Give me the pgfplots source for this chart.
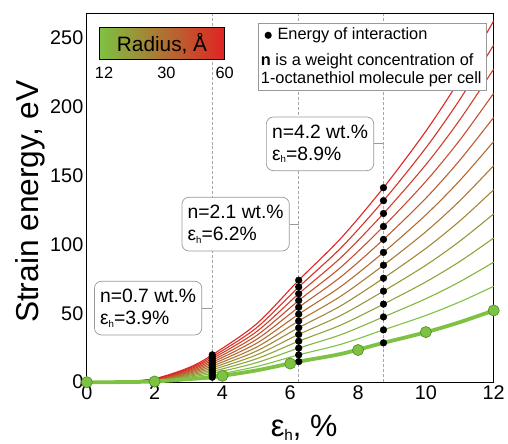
\documentclass[border=0pt]{standalone}
\usepackage{pgfplots}
\pgfplotsset{compat=1.18}
\usepackage{pgfplotstable}
\usepackage{fontspec}
\setmainfont{Liberation Sans}
\newcommand\subh{\raisebox{-0.12em}{\scalebox{0.5}{h}}}

\definecolor{cgreen}{RGB}{125,194,66}
\definecolor{cgreendark}{RGB}{85,145,45}
\definecolor{cred}{RGB}{225,35,35}
\colorlet{col1}{cred!0!cgreen}
\colorlet{col2}{cred!9!cgreen}
\colorlet{col3}{cred!18!cgreen}
\colorlet{col4}{cred!27!cgreen}
\colorlet{col5}{cred!36!cgreen}
\colorlet{col6}{cred!45!cgreen}
\colorlet{col7}{cred!55!cgreen}
\colorlet{col8}{cred!64!cgreen}
\colorlet{col9}{cred!73!cgreen}
\colorlet{col10}{cred!82!cgreen}
\colorlet{col11}{cred!91!cgreen}
\colorlet{col12}{cred!100!cgreen}

% strain energy (eV) vs eps_h (%), c0 = thick green curve, c1..c12 = radius green -> red
\pgfplotstableread{
x    c0   c1    c2    c3    c4    c5    c6    c7    c8    c9    c10   c11   c12
0    0    0     0     0     0     0     0     0     0     0     0     0     0
1    0.05 0.07  0.09  0.11  0.13  0.15  0.17  0.19  0.21  0.23  0.25  0.27  0.29
2    0.5  0.67  0.84  1.01  1.18  1.35  1.52  1.69  1.86  2.03  2.2   2.37  2.54
3    2.2  2.89  3.58  4.27  4.96  5.65  6.34  7.03  7.72  8.41  9.1   9.79  10.48
3.7  3.6  4.95  6.3   7.65  9.0   10.35 11.7  13.05 14.4  15.75 17.1  18.45 19.8
5    8.5  11.3  14.1  16.9  19.7  22.5  25.3  28.1  30.9  33.7  36.5  39.3  42.1
6.25 14.9 19.8  24.7  29.7  34.6  39.5  44.4  49.3  54.3  59.2  64.1  69.0  73.9
7.5  20.5 27.5  34.5  41.5  48.5  55.5  62.5  69.5  76.5  83.5  90.5  97.5  104.5
8.75 28.5 37.9  47.3  56.6  66.0  75.4  84.8  94.1  103.5 112.9 122.3 131.6 141.0
10   36.2 48.4  60.5  72.7  84.8  97.0  109.1 121.3 133.4 145.6 157.7 169.9 182.0
11   43.5 58.2  72.8  87.5  102.2 116.9 131.5 146.2 160.9 175.5 190.2 204.9 219.5
12   52   69.5  87    104.5 122   139.5 157   174.5 192   209.5 227   244.5 262
}\energy

\pgfplotstableread{
x  y
0  0
2  0.5
4  4.6
6  13.5
8  23.3
10 36.3
12 52
}\greendots

\begin{document}
\begin{tikzpicture}
\begin{axis}[
    name=ax,
    scale only axis,
    width=409.4bp, height=370.5bp,
    xmin=0, xmax=12, ymin=0, ymax=267,
    xtick={0,2,...,12}, ytick={0,50,...,250},
    major tick length=0pt,
    axis line style={line width=1pt},
    clip=false,
    tick label style={font=\fontsize{20}{20}\selectfont},
    /pgf/number format/assume math mode=true,
    xlabel={ε\subh, \%},
    ylabel={Strain energy, eV},
    xlabel style={font=\fontsize{31}{31}\selectfont, at={(axis description cs:0.534,-0.124)}, anchor=center},
    ylabel style={font=\fontsize{32}{32}\selectfont, at={(axis description cs:-0.139,0.49)}, anchor=center},
]
% dashed guides at the three concentrations
\draw[gray!70, densely dashed, line width=0.6bp] (axis cs:3.7,0) -- (axis cs:3.7,267);
\draw[gray!70, densely dashed, line width=0.6bp] (axis cs:6.25,0) -- (axis cs:6.25,267);
\draw[gray!70, densely dashed, line width=0.6bp] (axis cs:8.75,0) -- (axis cs:8.75,267);

\pgfplotsinvokeforeach{1,...,12}{
  \addplot[col#1, line width=1.1bp, smooth, no markers] table[x=x, y=c#1]{\energy};
}
\addplot[cgreen, line width=3.8bp, smooth, no markers] table[x=x, y=c0]{\energy};

% energy of interaction points
\pgfplotsinvokeforeach{0,...,12}{
  \addplot[only marks, mark=*, mark size=3.4bp, black,
    skip coords between index={0}{4}, skip coords between index={5}{6},
    skip coords between index={7}{8}, skip coords between index={9}{12}]
    table[x=x, y=c#1]{\energy};
}
\addplot[only marks, mark=*, mark size=5.6bp, mark options={fill=cgreen, draw=cgreendark, line width=0.7bp}]
  table[x=x, y=y]{\greendots};

% callouts
\tikzset{callout/.style={draw=gray!80, line width=0.7bp, rounded corners=7bp, fill=white, align=left,
    minimum width=108bp, minimum height=54bp, inner xsep=5bp, font=\fontsize{19.5}{22.5}\selectfont}}
\node[callout] (b1) at (axis cs:1.81,53.7) {n=0.7 wt.\%\\ε\subh=3.9\%};
\node[callout] (b2) at (axis cs:4.39,114.6) {n=2.1 wt.\%\\ε\subh=6.2\%};
\node[callout] (b3) at (axis cs:6.88,172.8) {n=4.2 wt.\%\\ε\subh=8.9\%};
\draw[gray!80, line width=0.7bp] (b1.east) -- (b1.east -| {axis cs:3.7,0});
\draw[gray!80, line width=0.7bp] (b2.east) -- (b2.east -| {axis cs:6.25,0});
\draw[gray!80, line width=0.7bp] (b3.east) -- (b3.east -| {axis cs:8.75,0});

% radius colour bar
\shade[left color=cgreen, right color=cred, draw=black, line width=0.9bp]
  (axis cs:0.372,257) rectangle (axis cs:4.065,233.9);
\node[font=\fontsize{21}{21}\selectfont] at (axis cs:2.219,245.5) {Radius, Å};
\node[font=\fontsize{16.5}{16.5}\selectfont] at (axis cs:0.51,224.2) {12};
\node[font=\fontsize{16.5}{16.5}\selectfont] at (axis cs:2.35,224.2) {30};
\node[font=\fontsize{16.5}{16.5}\selectfont] at (axis cs:4.065,224.2) {60};

% legend box
\draw[gray!80, line width=0.8bp, fill=white] (axis cs:5.06,259.9) rectangle (axis cs:11.79,211.8);
\fill[black] (axis cs:5.35,251.5) circle (3.6bp);
\node[anchor=west, inner sep=0pt, font=\fontsize{16.5}{16.5}\selectfont] at (axis cs:5.62,251.5) {Energy of interaction};
\node[anchor=west, inner sep=0pt, font=\fontsize{16.5}{16.5}\selectfont] at (axis cs:5.13,232.3) {\textbf{n} is a weight concentration of};
\node[anchor=west, inner sep=0pt, font=\fontsize{16.5}{16.5}\selectfont] at (axis cs:5.13,219.5) {1-octanethiol molecule per cell};
\end{axis}
\path (ax.south west) ++(-87.3bp,-58.5bp);
\path (ax.north east) ++(11.3bp,14bp);
\end{tikzpicture}
\end{document}
